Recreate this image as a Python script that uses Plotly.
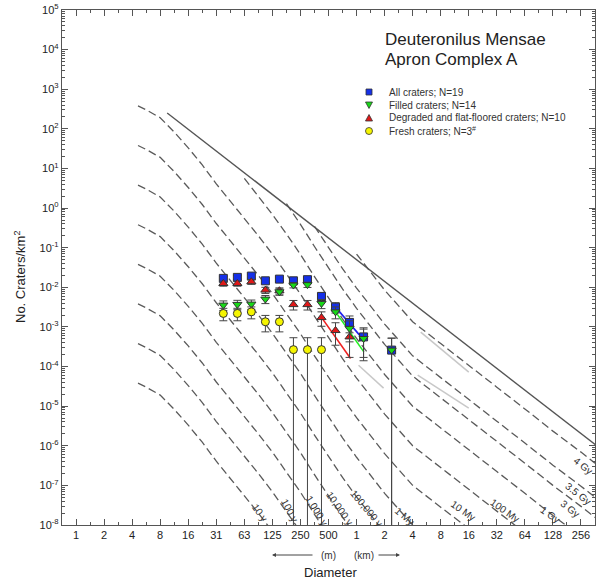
import numpy as np
import plotly.graph_objects as go

# ---------------- data ----------------
# crater diameters (km) = geometric centres of sqrt(2) bins
ALL_D = [0.0372, 0.0526, 0.0743, 0.1051, 0.1487, 0.2102, 0.2973, 0.4204, 0.5946, 0.8409, 1.1892, 2.3784]
ALL_N = [0.0168, 0.0178, 0.0192, 0.0146, 0.0161, 0.0146, 0.0156, 0.00589, 0.00316, 0.0013, 0.00056, 0.00026]
ALL_EP = [0.00212, 0.00218, 0.00226, 0.00197, 0.00207, 0.00197, 0.00204, 0.00125, 0.00092, 0.00059, 0.00039, 0.00026]
ALL_EM = [0.00212, 0.00218, 0.00226, 0.00197, 0.00207, 0.00197, 0.00204, 0.00125, 0.00092, 0.00059, 0.00039, 0.00026]

FILLED_D = [0.0372, 0.0526, 0.0743, 0.1051, 0.1487, 0.2102, 0.2973, 0.4204, 0.5946, 0.8409, 1.1892, 2.3784]
FILLED_N = [0.00356, 0.0037, 0.00377, 0.00504, 0.0077, 0.0114, 0.0117, 0.00392, 0.0024, 0.00092, 0.00051, 0.00026]
FILLED_EP = [0.00097, 0.00099, 0.0010, 0.00116, 0.00143, 0.00174, 0.00177, 0.00102, 0.0008, 0.0005, 0.00037, 0.00026]
FILLED_EM = [0.00097, 0.00099, 0.0010, 0.00116, 0.00143, 0.00174, 0.00177, 0.00102, 0.0008, 0.0005, 0.00037, 0.00026]

DEGR_D = [0.0372, 0.0526, 0.0743, 0.1051, 0.1487, 0.2102, 0.2973, 0.4204, 0.5946, 0.8409]
DEGR_N = [0.0125, 0.0125, 0.0138, 0.0085, 0.0082, 0.00366, 0.00366, 0.00172, 0.00081, 0.00056]
DEGR_EP = [0.00183, 0.00183, 0.00192, 0.0015, 0.00148, 0.00099, 0.00099, 0.00068, 0.000465, 0.00039]
DEGR_EM = [0.00183, 0.00183, 0.00192, 0.0015, 0.00148, 0.00099, 0.00099, 0.00068, 0.000465, 0.00039]

FRESH_D = [0.0372, 0.0526, 0.0743, 0.1051, 0.1487, 0.2102, 0.2973, 0.4204]
FRESH_N = [0.00219, 0.00219, 0.0024, 0.00135, 0.00135, 0.000267, 0.000267, 0.000267]
FRESH_EP = [0.00076, 0.00076, 0.0008, 0.0006, 0.0006, 0.000267, 0.000267, 0.000267]
FRESH_EM = [0.00076, 0.00076, 0.0008, 0.0006, 0.0006, 0.000267, 0.000267, 0.000267]

# fitted segments
FIT_ALL_D, FIT_ALL_N = [0.595, 1.198], [0.00316, 0.000464]
FIT_FILLED_D, FIT_FILLED_N = [0.595, 1.198], [0.0024, 0.000235]
FIT_DEGR_D, FIT_DEGR_N = [0.428, 0.862], [0.00164, 0.00016]

# saturation equilibrium line
SAT_D, SAT_N = [0.00929, 371.0], [251.0, 1.035e-6]

# light grey reference segments
GREY_SEGS = [([4.88, 16.0], [7.4e-4, 7.2e-5]),
             ([1.05, 1.95], [1.08e-4, 2.85e-5]),
             ([4.53, 16.0], [6.1e-5, 8.9e-6])]

# isochrons: diameters as log2(D / km), densities as log10(N / km^2)
ISO_LOG2_D = [-7.79, -7.5, -7, -6.5, -6, -5.5, -5, -4.5, -4, -3.5, -3, -2.5, -2, -1.5,
              -1, -0.5, 0, 0.5, 1, 1.5, 2, 3, 4, 5, 6, 7, 8, 8.5]
ISO_10Y = [-4.42, -4.52, -4.72, -5.08, -5.48, -5.91, -6.39, -6.82, -7.25, -7.70, -8.16]
ISO_100Y = [-3.42, -3.52, -3.72, -4.08, -4.48, -4.91, -5.39, -5.82, -6.25, -6.70, -7.16, -7.65, -8.17]
ISO_1KY = [-2.42, -2.52, -2.72, -3.08, -3.48, -3.91, -4.39, -4.82, -5.25, -5.70, -6.16, -6.65,
           -7.17, -7.73, -8.28]
ISO_10KY = [-1.42, -1.52, -1.72, -2.08, -2.48, -2.91, -3.39, -3.82, -4.25, -4.70, -5.16, -5.65,
            -6.17, -6.73, -7.28, -7.80, -8.29]
ISO_100KY = [-0.42, -0.52, -0.72, -1.08, -1.48, -1.91, -2.39, -2.82, -3.25, -3.70, -4.16, -4.65,
             -5.17, -5.73, -6.28, -6.80, -7.29, -7.76, -8.20]
ISO_1MY = [0.58, 0.48, 0.28, -0.08, -0.48, -0.91, -1.39, -1.82, -2.25, -2.70, -3.16, -3.65,
           -4.17, -4.73, -5.28, -5.80, -6.29, -6.76, -7.20, -7.60, -8.00, -8.55]
ISO_10MY = [1.58, 1.48, 1.28, 0.92, 0.52, 0.09, -0.39, -0.82, -1.25, -1.70, -2.16, -2.65,
            -3.17, -3.73, -4.28, -4.80, -5.29, -5.76, -6.20, -6.60, -7.00, -7.55, -8.09]
ISO_100MY = [2.58, 2.48, 2.28, 1.92, 1.52, 1.09, 0.61, 0.18, -0.25, -0.70, -1.16, -1.65,
             -2.17, -2.73, -3.28, -3.80, -4.29, -4.76, -5.20, -5.60, -6.00, -6.55, -7.09,
             -7.65, -8.20]
ISO_1GY = [0.75, 0.30, -0.16, -0.65, -1.17, -1.73, -2.28, -2.80, -3.29, -3.76, -4.20, -4.60,
           -5.00, -5.55, -6.09, -6.65, -7.20, -7.76, -8.29]
ISO_3GY = [0.11, -0.41, -0.97, -1.52, -2.04, -2.53, -3.00, -3.44, -3.84, -4.24, -4.79, -5.33,
           -5.89, -6.44, -7.00, -7.53, -7.81]
ISO_35GY = [-0.46, -1.01, -1.53, -2.02, -2.49, -2.93, -3.33, -3.73, -4.28, -4.82, -5.38, -5.93,
            -6.49, -7.02, -7.30]
ISO_4GY = [-1.16, -1.63, -2.07, -2.47, -2.87, -3.42, -3.96, -4.52, -5.07, -5.63, -6.16, -6.44]
ISO_CURVES = [ISO_10Y, ISO_100Y, ISO_1KY, ISO_10KY, ISO_100KY, ISO_1MY, ISO_10MY,
              ISO_100MY, ISO_1GY, ISO_3GY, ISO_35GY, ISO_4GY]
ISO_FIRST = [0, 0, 0, 0, 0, 0, 0, 0, 8, 11, 13, 16]   # grid index of each curve's first point
ISO_LABELS = ["10 y", "100 y", "1,000 y", "10,000 y", "100,000 y", "1 My", "10 My",
              "100 My", "1 Gy", "3 Gy", "3.5 Gy", "4 Gy"]

X_TICK_LOG2 = list(range(-10, 9))
X_TICK_TEXT = ["1", "2", "4", "8", "16", "31", "63", "125", "250", "500",
               "1", "2", "4", "8", "16", "32", "64", "128", "256"]
Y_EXP = list(range(-8, 6))

# ---------------- geometry helpers ----------------
W, H = 597, 583
ML, MR, MT, MB = 62, 2, 10, 58
PW, PH = W - ML - MR, H - MT - MB


def px(x):
    return (x - ML) / PW


def py(y):
    return (H - MB - y) / PH


AX = "#555555"
fig = go.Figure()

# isochrons
for curve, first in zip(ISO_CURVES, ISO_FIRST):
    ks = ISO_LOG2_D[first:first + len(curve)]
    fig.add_trace(go.Scatter(
        x=[2.0 ** k for k in ks], y=[10.0 ** v for v in curve],
        mode="lines", line=dict(color="#5a5a5a", width=1.3, dash="8px,4px"),
        showlegend=False, hoverinfo="skip"))

fig.add_trace(go.Scatter(x=SAT_D, y=SAT_N, mode="lines",
                         line=dict(color="#555555", width=1.4), showlegend=False))
for gd, gn in GREY_SEGS:
    fig.add_trace(go.Scatter(x=gd, y=gn, mode="lines",
                             line=dict(color="#c8c8c8", width=1.5), showlegend=False))

# fit lines
fig.add_trace(go.Scatter(x=FIT_DEGR_D, y=FIT_DEGR_N, mode="lines",
                         line=dict(color="#ee2020", width=1.6), showlegend=False))
fig.add_trace(go.Scatter(x=FIT_ALL_D, y=FIT_ALL_N, mode="lines",
                         line=dict(color="#2020ee", width=1.6), showlegend=False))
fig.add_trace(go.Scatter(x=FIT_FILLED_D, y=FIT_FILLED_N, mode="lines",
                         line=dict(color="#20ee20", width=1.6), showlegend=False))


def series(d, n, ep, em, sym, col, size, name):
    fig.add_trace(go.Scatter(
        x=d, y=n, mode="markers", name=name, showlegend=False,
        marker=dict(symbol=sym, color=col, size=size, line=dict(color="#333333", width=1)),
        error_y=dict(type="data", array=ep, arrayminus=em, symmetric=False,
                     color="#444444", thickness=1, width=4)))


series(ALL_D, ALL_N, ALL_EP, ALL_EM, "square", "#1530e8", 8, "All craters; N=19")
series(DEGR_D, DEGR_N, DEGR_EP, DEGR_EM, "triangle-up", "#e01818", 8, "Degraded")
series(FILLED_D, FILLED_N, FILLED_EP, FILLED_EM, "triangle-down", "#18d818", 8, "Filled")
series(FRESH_D, FRESH_N, FRESH_EP, FRESH_EM, "circle", "#f5f500", 8, "Fresh")

FONT = "Arial, Liberation Sans, sans-serif"


def note(x, y, text, size, color="#333", angle=0, xa="center", ya="middle"):
    return dict(x=px(x), y=py(y), xref="paper", yref="paper", text=text, showarrow=False,
                textangle=angle, xanchor=xa, yanchor=ya,
                font=dict(size=size, color=color, family=FONT))


ann = []
# isochron labels
ISO_LAB_POS = [(260, 512, 55), (290, 510, 62), (317, 510, 58), (340, 508, 55), (367, 508, 50),
               (405, 516, 40), (463, 510, 35), (505, 510, 35), (550, 514, 35), (570, 508, 38),
               (578, 493, 38), (583, 465, 38)]
for lab, (lx, ly, a) in zip(ISO_LABELS, ISO_LAB_POS):
    ann.append(note(lx, ly, lab, 10, angle=a))

ann += [
    note(383, 40, "Deuteronilus Mensae", 17, "#222", xa="left"),
    note(383, 60, "Apron Complex A", 17, "#222", xa="left"),
    note(20, 277, "No. Craters/km<sup>2</sup>", 13, "#222", angle=-90),
    note(330, 572, "Diameter", 13, "#222"),
    note(328, 555, "(m)", 10),
    note(364, 555, "(km)", 10),
    dict(x=px(272), y=py(555), xref="paper", yref="paper", text="", showarrow=True,
         ax=42, ay=0, arrowhead=2, arrowsize=0.8, arrowwidth=1, arrowcolor="#444"),
    dict(x=px(400), y=py(555), xref="paper", yref="paper", text="", showarrow=True,
         ax=-23, ay=0, arrowhead=2, arrowsize=0.8, arrowwidth=1, arrowcolor="#444"),
]

# legend (manual)
LEG_TEXT = ["All craters; N=19", "Filled craters; N=14",
            "Degraded and flat-floored craters; N=10", "Fresh craters; N=3<sup>#</sup>"]
LEG_Y = [92, 105, 118, 131]
for t, ly in zip(LEG_TEXT, LEG_Y):
    ann.append(note(387, ly, t, 10, xa="left"))

shapes = []
mx = 369
s = 3
shapes.append(dict(type="rect", xref="paper", yref="paper",
                   x0=px(mx - s), x1=px(mx + s), y0=py(92 + s), y1=py(92 - s),
                   fillcolor="#1530e8", line=dict(color="#333", width=0.8)))
shapes.append(dict(type="path", xref="paper", yref="paper",
                   path="M %f %f L %f %f L %f %f Z" % (px(mx - 3.5), py(105 - 3), px(mx + 3.5), py(105 - 3), px(mx), py(105 + 3.5)),
                   fillcolor="#18d818", line=dict(color="#333", width=0.8)))
shapes.append(dict(type="path", xref="paper", yref="paper",
                   path="M %f %f L %f %f L %f %f Z" % (px(mx - 3.5), py(118 + 3), px(mx + 3.5), py(118 + 3), px(mx), py(118 - 3.5)),
                   fillcolor="#e01818", line=dict(color="#333", width=0.8)))
shapes.append(dict(type="circle", xref="paper", yref="paper",
                   x0=px(mx - 3.5), x1=px(mx + 3.5), y0=py(131 + 3.5), y1=py(131 - 3.5),
                   fillcolor="#f5f500", line=dict(color="#333", width=0.8)))

fig.update_layout(
    width=W, height=H, margin=dict(l=ML, r=MR, t=MT, b=MB),
    paper_bgcolor="white", plot_bgcolor="white", showlegend=False,
    annotations=ann, shapes=shapes,
    font=dict(family=FONT, color="#222"),
    xaxis=dict(type="log", range=[np.log10(2.0 ** -10.5), np.log10(2.0 ** 8.5)],
               tickmode="array", tickvals=[2.0 ** k for k in X_TICK_LOG2], ticktext=X_TICK_TEXT,
               ticks="inside", ticklen=6, tickcolor=AX, tickwidth=1,
               showline=True, linecolor=AX, linewidth=1.3, mirror="allticks",
               showgrid=False, zeroline=False, tickfont=dict(size=11, color="#222"),
               minor=dict(tickmode="array", tickvals=[2.0 ** (k + 0.5) for k in range(-11, 9)],
                          ticks="inside", ticklen=3, tickcolor=AX, showgrid=False)),
    yaxis=dict(type="log", range=[-8, 5],
               tickmode="array", tickvals=[10.0 ** e for e in Y_EXP],
               ticktext=["10<sup>%d</sup>" % e for e in Y_EXP],
               ticks="inside", ticklen=6, tickcolor=AX, tickwidth=1,
               showline=True, linecolor=AX, linewidth=1.3, mirror="allticks",
               showgrid=False, zeroline=False, tickfont=dict(size=11, color="#222"),
               minor=dict(tickmode="array",
                          tickvals=[m * 10.0 ** e for e in range(-8, 5) for m in range(2, 10)],
                          ticks="inside", ticklen=3, tickcolor=AX, showgrid=False)),
)

fig.write_html("out.html")
